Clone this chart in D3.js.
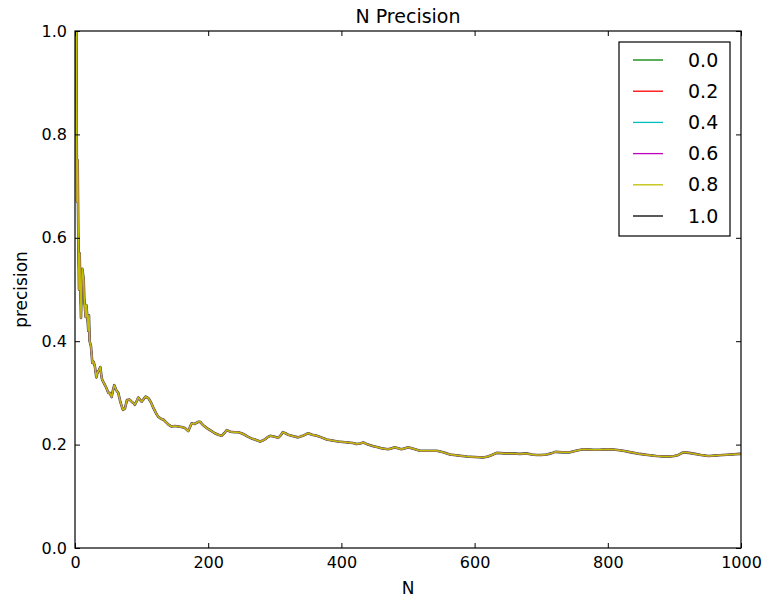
<!DOCTYPE html>
<html>
<head>
<meta charset="utf-8">
<title>N Precision</title>
<script src="https://d3js.org/d3.v7.min.js"></script>
<style>
body { margin: 0; background: #fff; }
text { font-family: "DejaVu Sans", sans-serif; fill: #000; }
.axis path { display: none; }
.axis line { stroke: #000; stroke-width: 1; }
</style>
</head>
<body>
<div id="chart"></div>
<script>
// values (all series overlap almost exactly)
var nValues = [1,2,3,4,5,6,7,9,10,11,12,13,14,16,17,18,20,21,22,24,26,28,30,32,34,36,38,40,41,43,45,47,50,52,55,57,59,62,65,68,70,72,75,78,82,85,88,90,93,95,98,100,103,106,110,114,118,122,125,129,133,137,141,145,150,155,160,165,170,172,175,180,185,188,192,198,204,210,215,220,224,228,233,240,245,250,255,260,265,270,278,282,285,290,293,300,305,309,312,316,320,328,335,342,350,356,363,370,378,386,395,402,410,417,423,428,433,440,448,455,460,465,470,476,480,485,490,496,500,508,518,530,543,553,563,575,588,600,613,620,626,633,645,658,668,678,686,693,700,708,715,721,732,743,752,763,778,788,801,812,823,835,848,860,873,883,893,900,906,913,922,931,940,951,962,973,985,998,1000];
var precisionValues = [1.0,1.0,0.67,0.75,0.6,0.5,0.57,0.445,0.5,0.54,0.53,0.52,0.48,0.447,0.47,0.456,0.42,0.45,0.40,0.39,0.358,0.36,0.35,0.33,0.34,0.344,0.35,0.33,0.325,0.32,0.315,0.31,0.30,0.30,0.292,0.305,0.315,0.305,0.30,0.283,0.275,0.267,0.27,0.286,0.287,0.283,0.28,0.277,0.285,0.291,0.286,0.283,0.288,0.293,0.29,0.282,0.27,0.26,0.254,0.25,0.248,0.243,0.238,0.235,0.236,0.235,0.234,0.232,0.226,0.232,0.241,0.24,0.244,0.244,0.238,0.232,0.227,0.222,0.219,0.217,0.222,0.228,0.225,0.224,0.224,0.222,0.219,0.215,0.212,0.21,0.206,0.208,0.21,0.215,0.217,0.215,0.213,0.218,0.224,0.222,0.219,0.216,0.214,0.217,0.222,0.219,0.217,0.214,0.21,0.208,0.206,0.205,0.204,0.203,0.201,0.202,0.204,0.2,0.197,0.195,0.193,0.192,0.191,0.193,0.195,0.193,0.191,0.193,0.195,0.192,0.188,0.188,0.188,0.185,0.181,0.179,0.177,0.176,0.175,0.177,0.18,0.184,0.183,0.183,0.182,0.183,0.181,0.18,0.18,0.181,0.183,0.186,0.185,0.185,0.188,0.191,0.19,0.19,0.191,0.19,0.188,0.185,0.182,0.18,0.178,0.177,0.177,0.178,0.18,0.185,0.184,0.182,0.18,0.178,0.179,0.18,0.181,0.182,0.182];

var seriesLabels = ["0.0", "0.2", "0.4", "0.6", "0.8", "1.0"];
var seriesColors = ["#008000", "#ff0000", "#00bfbf", "#bf00bf", "#bfbf00", "#000000"];
// draw order: black underneath, yellow ends on top
var drawOrder = [5, 0, 1, 2, 3, 4];

var xTicks = [0, 200, 400, 600, 800, 1000];
var yTicks = [0.0, 0.2, 0.4, 0.6, 0.8, 1.0];

var W = 765, H = 600,
    margin = {top: 31, right: 24, bottom: 52, left: 75},
    w = W - margin.left - margin.right,
    h = H - margin.top - margin.bottom;

var svg = d3.select('#chart').append('svg')
    .attr('width', W).attr('height', H);

var g = svg.append('g').attr('transform', 'translate(' + margin.left + ',' + margin.top + ')');

var x = d3.scaleLinear().domain([0, 1000]).range([0, w]);
var y = d3.scaleLinear().domain([0, 1]).range([h, 0]);

var points = nValues.map(function(n, i) { return [n, precisionValues[i]]; });

var line = d3.line()
    .x(function(d) { return x(d[0]); })
    .y(function(d) { return y(d[1]); });

g.append('defs').append('clipPath').attr('id', 'clip')
  .append('rect').attr('width', w).attr('height', h);

var lines = g.append('g').attr('clip-path', 'url(#clip)');
drawOrder.forEach(function(i) {
  lines.append('path')
    .datum(points)
    .attr('d', line)
    .attr('fill', 'none')
    .attr('stroke', seriesColors[i])
    .attr('stroke-width', i == 5 ? 2.6 : 1.5)
    .attr('stroke-opacity', i == 5 ? 0.7 : 1)
    .attr('stroke-linejoin', 'round');
});

// axes, ticks pointing inward like matplotlib classic
var fmtY = d3.format('.1f');
g.append('g').attr('class', 'axis')
  .attr('transform', 'translate(0,' + h + ')')
  .call(d3.axisBottom(x).tickValues(xTicks).tickSize(-5).tickPadding(9).tickFormat(d3.format('d')))
  .selectAll('text').style('font-size', '16px');
g.append('g').attr('class', 'axis')
  .call(d3.axisTop(x).tickValues(xTicks).tickSize(-5).tickFormat(''));
g.append('g').attr('class', 'axis')
  .call(d3.axisLeft(y).tickValues(yTicks).tickSize(-5).tickPadding(8).tickFormat(fmtY))
  .selectAll('text').style('font-size', '16px');
g.append('g').attr('class', 'axis')
  .attr('transform', 'translate(' + w + ',0)')
  .call(d3.axisRight(y).tickValues(yTicks).tickSize(-5).tickFormat(''));

g.append('rect')
  .attr('width', w).attr('height', h)
  .attr('fill', 'none').attr('stroke', '#000').attr('stroke-width', 1.2);

// titles
svg.append('text')
  .attr('x', margin.left + w / 2).attr('y', 23)
  .attr('text-anchor', 'middle').style('font-size', '19px')
  .text('N Precision');
svg.append('text')
  .attr('x', margin.left + w / 2).attr('y', 594)
  .attr('text-anchor', 'middle').style('font-size', '17px')
  .text('N');
svg.append('text')
  .attr('transform', 'translate(27,' + (margin.top + h / 2) + ') rotate(-90)')
  .attr('text-anchor', 'middle').style('font-size', '17px')
  .text('precision');

// legend
var legend = svg.append('g').attr('transform', 'translate(619,42)');
legend.append('rect')
  .attr('width', 111).attr('height', 194)
  .attr('fill', '#fff').attr('stroke', '#000').attr('stroke-width', 1.2);
var item = legend.selectAll('.item').data(seriesLabels)
  .enter().append('g')
  .attr('transform', function(d, i) { return 'translate(0,' + (18 + i * 31.2) + ')'; });
item.append('line')
  .attr('x1', 14).attr('x2', 44)
  .attr('stroke', function(d, i) { return seriesColors[i]; })
  .attr('stroke-width', 1.3);
item.append('text')
  .attr('x', 69).attr('dy', '0.35em')
  .style('font-size', '19px')
  .text(function(d) { return d; });
</script>
</body>
</html>
